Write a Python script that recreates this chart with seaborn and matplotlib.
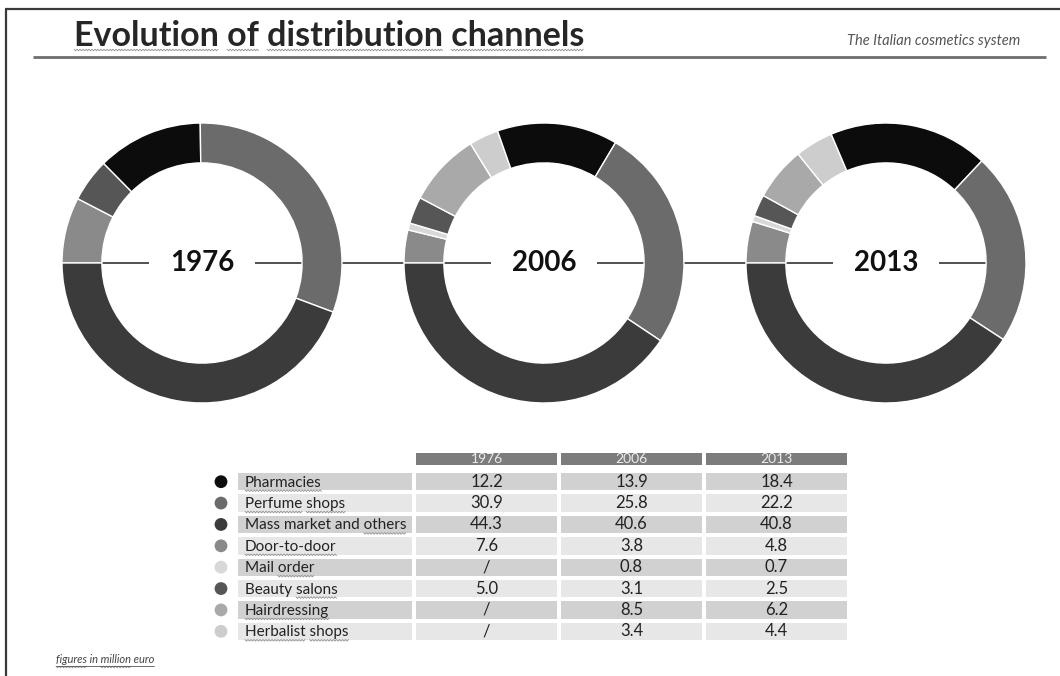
import numpy as np
import matplotlib
matplotlib.use("Agg")
import matplotlib.pyplot as plt
from matplotlib.colors import ListedColormap
from matplotlib.font_manager import FontProperties
import seaborn as sns

# ---- data -------------------------------------------------------------
channels = ["Pharmacies", "Perfume shops", "Mass market and others",
            "Door-to-door", "Mail order", "Beauty salons",
            "Hairdressing", "Herbalist shops"]
years = ["1976", "2006", "2013"]
share_1976 = [12.2, 30.9, 44.3, 7.6, None, 5.0, None, None]
share_2006 = [13.9, 25.8, 40.6, 3.8, 0.8, 3.1, 8.5, 3.4]
share_2013 = [18.4, 22.2, 40.8, 4.8, 0.7, 2.5, 6.2, 4.4]
shares = [share_1976, share_2006, share_2013]

# ---- style ------------------------------------------------------------
sns.set_theme(style="white")
plt.rcParams["font.family"] = ["Lato", "DejaVu Sans"]

channel_colors = ["#0c0c0c", "#6b6b6b", "#3b3b3b", "#8a8a8a",
                  "#d8d8d8", "#565656", "#a9a9a9", "#cdcdcd"]
# clockwise order of the ring segments, starting at 9 o'clock
ring_order = [3, 4, 5, 6, 7, 0, 1, 2]

W, H = 1060, 676
fig = plt.figure(figsize=(W / 100, H / 100), dpi=100)
fig.patch.set_facecolor("white")


def px_axes(x0, y0, x1, y1, z=1):
    ax = fig.add_axes([x0 / W, 1 - y1 / H, (x1 - x0) / W, (y1 - y0) / H])
    ax.set_zorder(z)
    return ax


def pixel_layer(z):
    ax = px_axes(0, 0, W, H, z=z)
    ax.set_xlim(0, W)
    ax.set_ylim(H, 0)
    ax.set_axis_off()
    ax.patch.set_alpha(0)
    return ax


# background layer (lines behind everything) and foreground layer (text)
bg = pixel_layer(0)
fg = pixel_layer(5)

# page frame and title rule
bg.plot([5, W], [9, 9], color="#3a3a3a", lw=1.6, solid_capstyle="butt")
bg.plot([6, 6], [9, H], color="#3a3a3a", lw=1.6, solid_capstyle="butt")
bg.plot([33, 1046], [56.5, 56.5], color="#6e6e6e", lw=2.0, solid_capstyle="butt")

renderer = fig.canvas.get_renderer()


def text_w(s, prop):
    w, _, _ = renderer.get_text_width_height_descent(s, prop, ismath=False)
    return w


def squiggle(x0, x1, y):
    xs = np.arange(x0, x1 + 0.01, 1.5)
    ys = y + np.where(np.arange(len(xs)) % 2 == 0, -0.8, 0.8)
    fg.plot(xs, ys, color="#8f8f8f", lw=0.6)


def marked_text(x, y, s, words, prop, color, **kw):
    fg.text(x, y, s, fontproperties=prop, color=color, ha="left",
            va="baseline", **kw)
    for wd in words:
        i = s.index(wd)
        end = text_w(s[:i + len(wd)], prop)
        start = end - text_w(wd, prop)
        squiggle(x + start, x + end, y + 4)


# title and subtitle
title_prop = FontProperties(family="Lato", weight="bold", size=24.5)
marked_text(74, 46, "Evolution of distribution channels",
            ["Evolution", "of", "distribution", "channels"], title_prop, "#262626")
fg.text(1020, 45, "The Italian cosmetics system", ha="right", va="baseline",
        fontsize=10.5, style="italic", color="#555555")

# connecting line behind the rings
centers_x = [202, 544, 886]
cy, R = 263, 140
bg.plot([centers_x[0] - 100, centers_x[-1] + 100], [cy, cy],
        color="#222222", lw=1.1)

# ---- rings ------------------------------------------------------------
for cx, yr, vals in zip(centers_x, years, shares):
    ax = px_axes(cx - R, cy - R, cx + R, cy + R, z=2)
    ax.patch.set_alpha(0)
    v = [vals[i] for i in ring_order if vals[i] is not None]
    c = [channel_colors[i] for i in ring_order if vals[i] is not None]
    ax.pie(v, colors=c, startangle=180, counterclock=False, radius=1,
           wedgeprops=dict(width=0.285, edgecolor="white", linewidth=1.0))
    ax.set_xlim(-1, 1)
    ax.set_ylim(-1, 1)
    ax.set_axis_off()
    ax.text(0, 0, yr, ha="center", va="center", fontsize=20,
            fontweight="bold", color="#111111",
            bbox=dict(boxstyle="square,pad=0.75", fc="white", ec="none"))

# ---- table ------------------------------------------------------------
row_dark, row_light, head_col = "#d1d1d1", "#e7e7e7", "#7c7c7c"
n = len(channels)
top, bottom = 471, 642
row_h = (bottom - top) / n
parity = np.array([[i % 2] for i in range(n)])

cell_text = np.array([["/" if s[i] is None else f"{s[i]:.1f}" for s in shares]
                      for i in range(n)])

# value cells
ax_v = px_axes(414, top, 849, bottom, z=1)
sns.heatmap(np.repeat(parity, 3, axis=1), ax=ax_v,
            cmap=ListedColormap([row_dark, row_light]), vmin=0, vmax=1,
            annot=cell_text, fmt="", cbar=False, linewidths=1.6,
            linecolor="white", xticklabels=False, yticklabels=False,
            annot_kws=dict(color="#222222", fontsize=12))

# header
ax_h = px_axes(414, 451, 849, 467, z=1)
sns.heatmap(np.zeros((1, 3)), ax=ax_h, cmap=ListedColormap([head_col]),
            vmin=0, vmax=1, annot=np.array([years]), fmt="", cbar=False,
            linewidths=1.6, linecolor="white", xticklabels=False,
            yticklabels=False,
            annot_kws=dict(color="#ececec", fontsize=10))

# label column
ax_l = px_axes(236, top, 414, bottom, z=1)
sns.heatmap(parity, ax=ax_l, cmap=ListedColormap([row_dark, row_light]),
            vmin=0, vmax=1, cbar=False, linewidths=1.6, linecolor="white",
            xticklabels=False, yticklabels=False)

label_prop = FontProperties(family="Lato", size=11)
label_marks = [["Pharmacies"], ["Perfume", "shops"], ["others"],
               ["Door-to-door"], ["order"], ["salons"], ["Hairdressing"],
               ["Herbalist", "shops"]]
row_y = [top + row_h * (i + 0.5) for i in range(n)]
for name, marks, y in zip(channels, label_marks, row_y):
    marked_text(245, y + 5, name, marks, label_prop, "#222222")

# legend dots
fg.scatter([221] * n, row_y, s=85, c=channel_colors, linewidths=0)

# footnote
foot_prop = FontProperties(family="Lato", size=8, style="italic")
marked_text(56, 663, "figures in million euro", ["figures", "million"],
            foot_prop, "#444444")
fw = text_w("figures in million euro", foot_prop)
fg.plot([56, 56 + fw], [665.5, 665.5], color="#555555", lw=0.6)

fig.savefig("out.png", dpi=100, facecolor="white")
